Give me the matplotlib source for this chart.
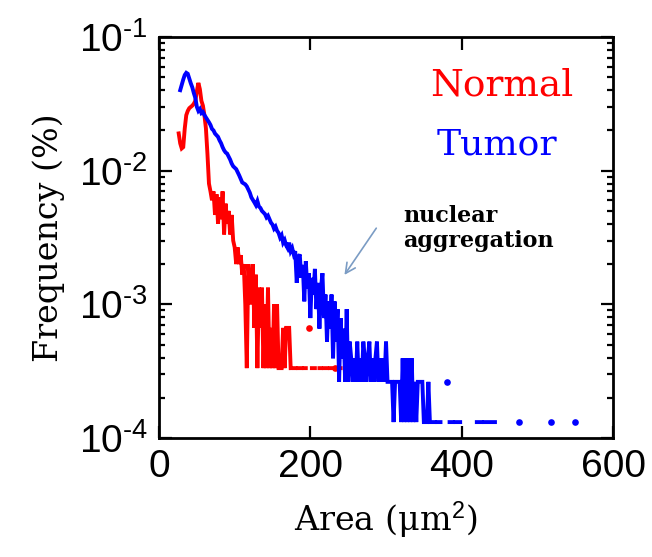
import numpy as np
import matplotlib.pyplot as plt

plt.rcParams['font.family'] = 'Liberation Sans'
plt.rcParams['mathtext.fontset'] = 'custom'
plt.rcParams['mathtext.rm'] = 'Liberation Sans'
plt.rcParams['mathtext.it'] = 'Liberation Sans'

# histogram of nuclear area, bin width 2 um^2, counts per bin
bin_w = 2
n_total_normal = 3000
n_total_tumor = 7600

normal_start = 26
normal_counts = [
    57, 48, 44, 45, 62, 78, 84, 88, 90, 92,      # 26-44
    95, 100, 118, 136, 122, 100, 92, 78, 62, 40,  # 46-64
    24, 21, 18, 21, 14, 20, 12, 19, 13, 21,       # 66-84
    10, 17, 12, 15, 10, 14, 9, 8, 6, 8,           # 86-104
    6, 7, 5, 6, 3, 1, 6, 4, 3, 6,                 # 106-124
    2, 5, 1, 4, 2, 4, 1, 3, 1, 4,                 # 126-144
    1, 2, 1, 3, 1, 3, 1, 1, 1, 2,                 # 146-164
    1, 2, 2, 2, 1, 0, 1, 1, 0, 1,                 # 166-184
    1, 1, 0, 1, 1, 0, 2, 0, 1, 1,                 # 186-204
    1, 0, 0, 1, 1, 0, 1, 1, 1, 0,                 # 206-224
    1, 1, 0, 1, 0, 1, 1, 1, 0, 0,                 # 226-244
    1, 1, 0, 0, 1, 0, 0, 1, 0, 0,                 # 246-264
    0, 0, 0, 0, 0, 0, 0, 0, 0, 0,                 # 266-284
    0, 0, 0, 1, 0, 0,                             # 286-296
]

tumor_start = 28
tumor_counts = [
    304, 334, 365, 395, 410, 403, 372, 342, 319, 289,  # 28-46
    266, 228, 213, 220, 205, 209, 198, 190, 182, 175,  # 48-66
    167, 156, 152, 144, 140, 136, 128, 122, 114, 108,  # 68-86
    104, 102, 97, 92, 86, 82, 80, 78, 74, 70,          # 88-106
    66, 62, 61, 60, 58, 55, 52, 48, 46, 44,            # 108-126
    42, 45, 41, 40, 38, 37, 36, 34, 35, 33,            # 128-146
    31, 30, 28, 29, 27, 26, 24, 25, 22, 23,            # 148-166
    21, 20, 22, 19, 20, 18, 19, 11, 17, 18,            # 168-186
    12, 15, 8, 16, 10, 13, 6, 12, 9, 14,               # 188-206
    7, 11, 5, 10, 13, 6, 9, 4, 8, 5,                   # 208-226
    9, 3, 8, 4, 7, 2, 6, 3, 5, 2,                      # 228-246
    7, 2, 4, 3, 2, 3, 2, 4, 2, 3,                      # 248-266
    2, 4, 3, 2, 3, 4, 2, 3, 2, 3,                      # 268-286
    4, 2, 3, 2, 3, 2, 4, 2, 2, 2,                      # 288-306
    2, 1, 2, 2, 2, 2, 1, 3, 1, 3,                      # 308-326
    1, 3, 1, 3, 1, 2, 1, 2, 2, 2,                      # 328-346
    2, 1, 1, 1, 2, 1, 1, 1, 1, 0,                      # 348-366
    1, 1, 1, 0, 0, 0, 2, 0, 1, 1,                      # 368-386
    1, 0, 1, 1, 1, 1, 0, 0, 0, 0,                      # 388-406
    0, 0, 0, 0, 0, 0, 1, 1, 1, 1,                      # 408-426
    0, 1, 1, 1, 1, 1, 1, 1, 1, 0,                      # 428-446
    0, 0, 0, 0, 0, 0, 0, 0, 0, 0,                      # 448-466
    0, 0, 0, 0, 1, 0, 0, 0, 0, 0,                      # 468-486
    0, 0, 0, 0, 0, 0, 0, 0, 0, 0,                      # 488-506
    0, 0, 0, 0, 0, 1, 0, 0, 0, 0,                      # 508-526
    0, 0, 0, 0, 0, 0, 0, 0, 0, 0,                      # 528-546
    0, 1, 0, 0, 0,                                     # 548-556
]


def to_freq(start, counts, total):
    c = np.array(counts, float)
    x = start + bin_w * np.arange(len(c))
    f = c / total
    f[c == 0] = np.nan   # empty bins break the line on log axis
    # bins with no neighbours get a dot so they stay visible
    padded = np.concatenate([[0], c, [0]])
    lone = (c > 0) & (padded[:-2] == 0) & (padded[2:] == 0)
    return x, f, lone


fig = plt.figure(figsize=(6.52, 5.57), dpi=100)
ax = fig.add_axes([0.2439, 0.2136, 0.6963, 0.72])

for start, counts, total, col in [(normal_start, normal_counts, n_total_normal, '#ff0000'),
                                  (tumor_start, tumor_counts, n_total_tumor, '#0000ff')]:
    x, f, lone = to_freq(start, counts, total)
    ax.semilogy(x, f, '-', color=col, linewidth=2.8, solid_joinstyle='miter')
    ax.semilogy(x[lone], f[lone], 'o', color=col, markersize=4.8,
                markeredgewidth=0)

ax.set_xlim(0, 600)
ax.set_ylim(1e-4, 1e-1)
ax.set_xticks([0, 200, 400, 600])
ax.set_yticks([1e-4, 1e-3, 1e-2, 1e-1])
ax.set_yticklabels([r'$\mathrm{10^{\text{-}4}}$', r'$\mathrm{10^{\text{-}3}}$',
                    r'$\mathrm{10^{\text{-}2}}$', r'$\mathrm{10^{\text{-}1}}$'])

for s in ax.spines.values():
    s.set_linewidth(2.0)
ax.tick_params(which='both', direction='in', top=True, right=True,
               labelsize=28, width=1.6, pad=8)
ax.tick_params(which='major', length=9)
ax.tick_params(which='minor', length=4.5)
ax.tick_params(axis='x', which='minor', bottom=False, top=False)

ax.set_xlabel('Area (\u03bcm$^2$)', family='DejaVu Serif', fontsize=24,
              labelpad=10)
ax.set_ylabel('Frequency (%)', family='DejaVu Serif', fontsize=24,
              labelpad=10)

ax.text(0.597, 0.880, 'Normal', color='#ff0000', family='DejaVu Serif',
        fontsize=27, transform=ax.transAxes, ha='left', va='center')
ax.text(0.612, 0.731, 'Tumor', color='#0000ff', family='DejaVu Serif',
        fontsize=26, transform=ax.transAxes, ha='left', va='center')
ax.text(0.537, 0.539, 'nuclear', family='DejaVu Serif', weight='bold',
        fontsize=16, transform=ax.transAxes, ha='left', va='baseline')
ax.text(0.537, 0.476, 'aggregation', family='DejaVu Serif', weight='bold',
        fontsize=16, transform=ax.transAxes, ha='left', va='baseline')
ax.annotate('', xy=(0.405, 0.401), xytext=(0.482, 0.529),
            xycoords='axes fraction', textcoords='axes fraction',
            arrowprops=dict(arrowstyle='->', color='#7b9cc4', lw=1.2,
                            mutation_scale=18))

fig.savefig('out.png', dpi=100)
